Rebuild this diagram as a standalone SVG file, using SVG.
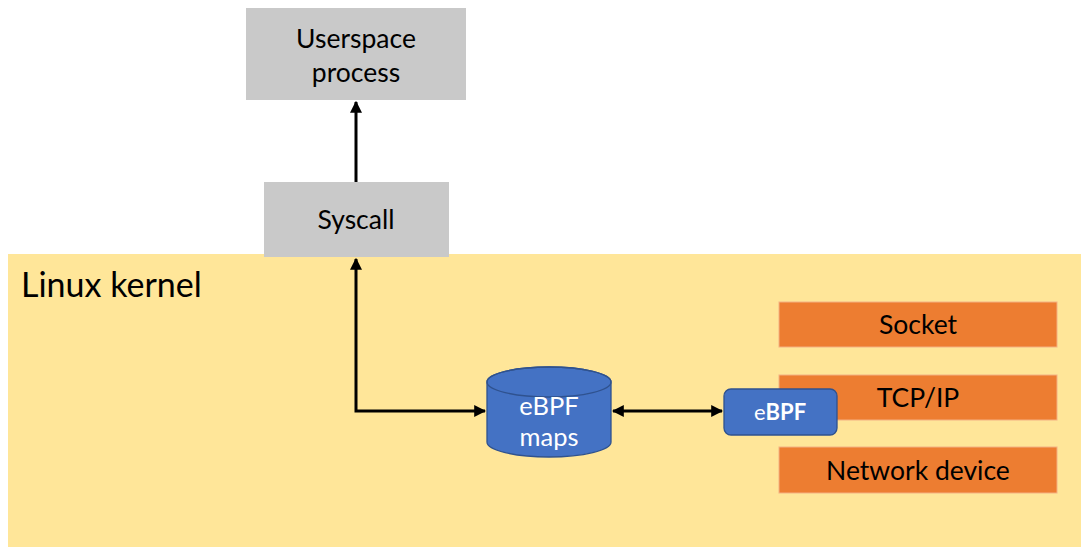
<svg xmlns="http://www.w3.org/2000/svg" width="1081" height="547" viewBox="0 0 1081 547">
<defs>
<style>
.t{font-family:Lato,"Liberation Sans",sans-serif;fill:#000;text-anchor:middle}
.w{font-family:Lato,"Liberation Sans",sans-serif;fill:#fff;text-anchor:middle}
.gray{fill:#C9C9C9}
.orange{fill:#ED7D31;stroke:#F4B183;stroke-width:1}
.blue{fill:#4472C4;stroke:#2F528F;stroke-width:1.3}
.conn{stroke:#000;stroke-width:3;fill:none}
</style>
<marker id="ah" viewBox="0 0 10 10" refX="9" refY="5" markerWidth="4" markerHeight="4" orient="auto-start-reverse" markerUnits="strokeWidth">
<path d="M0,0 L10,5 L0,10 z" fill="#000"/>
</marker>
</defs>
<rect width="1081" height="547" fill="#fff"/>
<g id="kernel">
<rect x="8" y="254" width="1073" height="293" fill="#FFE699"/>
<text class="t" x="21" y="297" font-size="34" style="text-anchor:start">Linux kernel</text>
</g>
<g id="userspace">
<rect class="gray" x="246" y="8" width="220" height="92"/>
<text class="t" x="356" y="48" font-size="26.5">Userspace</text>
<text class="t" x="356" y="82" font-size="26.5">process</text>
</g>
<g id="syscall">
<rect class="gray" x="264" y="182" width="185" height="75"/>
<text class="t" x="356" y="229" font-size="26.5">Syscall</text>
</g>
<g id="socket">
<rect class="orange" x="779" y="302" width="278" height="45"/>
<text class="t" x="918" y="334" font-size="26.5">Socket</text>
</g>
<g id="tcpip">
<rect class="orange" x="779" y="375" width="278" height="45"/>
<text class="t" x="918" y="407" font-size="26.5">TCP/IP</text>
</g>
<g id="netdev">
<rect class="orange" x="779" y="447" width="278" height="46"/>
<text class="t" x="918" y="480" font-size="26.5">Network device</text>
</g>
<g id="maps">
<path class="blue" d="M487,382 A62,15 0 0 1 611,382 L611,442 A62,15 0 0 1 487,442 Z"/>
<ellipse cx="549" cy="382" rx="62" ry="15" fill="none" stroke="#2F528F" stroke-width="1.3"/>
<text class="w" x="549" y="415" font-size="25.5">eBPF</text>
<text class="w" x="549" y="446" font-size="25.5">maps</text>
</g>
<g id="ebpf">
<rect class="blue" x="724" y="389" width="113" height="46" rx="7"/>
<text class="w" x="780" y="420" font-size="22">e<tspan font-weight="bold">BPF</tspan></text>
</g>
<g id="connectors">
<line class="conn" x1="356" y1="182" x2="356" y2="102" marker-end="url(#ah)"/>
<polyline class="conn" points="356,259 356,411 485,411" marker-start="url(#ah)" marker-end="url(#ah)"/>
<line class="conn" x1="613" y1="411" x2="722" y2="411" marker-start="url(#ah)" marker-end="url(#ah)"/>
</g>
</svg>
